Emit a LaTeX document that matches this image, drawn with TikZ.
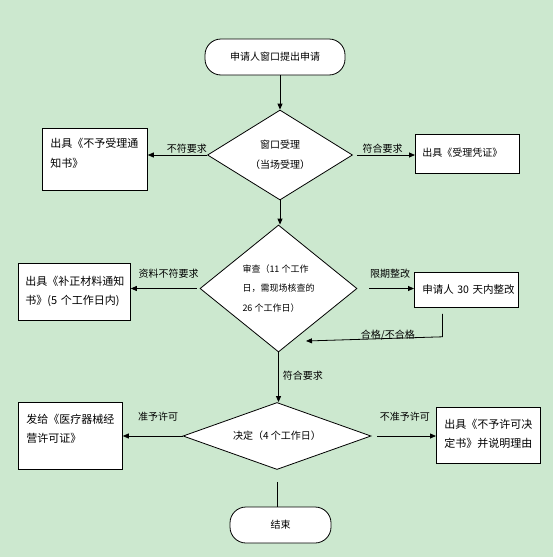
\documentclass[tikz,border=0pt]{standalone}
\usepackage{fontspec}
\setmainfont{Noto Sans CJK SC}
\usepackage{tikz}
\usetikzlibrary{shapes.geometric, arrows.meta, positioning}
\definecolor{pagegreen}{RGB}{204,232,207}
\newcommand{\setfs}[2]{\fontsize{#1pt}{#2pt}\selectfont}
\tikzset{
  basebox/.style={rectangle,draw=black,fill=white,line width=0.8pt,align=left,inner ysep=0pt,anchor=north west},
  termnode/.style={rectangle,rounded corners=16pt,draw=black,fill=white,line width=0.8pt,minimum height=36pt,font=\setfs{10}{12}},
  checknode/.style={diamond,draw=black,fill=white,line width=0.8pt,inner sep=0pt,align=center},
  lbl/.style={inner sep=1pt,font=\setfs{10}{12}},
  arr/.style={-{Triangle[length=6pt,width=5pt]},line width=0.8pt,color=black},
  plainline/.style={line width=0.8pt,color=black}
}
\begin{document}
\begin{tikzpicture}[x=1pt,y=-1pt]
  \fill[pagegreen] (0,0) rectangle (553,557);
  \useasboundingbox (0,0) rectangle (553,557);

  % main column
  \node[termnode,minimum width=140pt] (start) at (275,57) {申请人窗口提出申请};
  \node[checknode,minimum width=145pt,minimum height=90pt,aspect=1.6,font=\setfs{10}{20}] (d1) at (280,155)
      {窗口受理\\（当场受理）};
  \node[checknode,minimum width=157pt,minimum height=127pt,aspect=1.24,align=left,font=\setfs{9}{19.5}] (d2) at (278.5,288.5)
      {审查（11 个工作\\日，需现场核查的\\26 个工作日）};
  \node[checknode,minimum width=188pt,minimum height=67pt,aspect=2.8,font=\setfs{10}{12}] (d3) at (277,436)
      {决定（4 个工作日）};
  \node[termnode,minimum width=101pt] (fin) at (280.5,525) {结束};

  % side boxes
  \node[basebox,inner xsep=8pt,text width=89pt,text height=19pt,text depth=43pt,font=\setfs{11}{20}] (rej) at (42,128)
      {出具《不予受理通\\知书》};
  \node[basebox,inner xsep=7pt,text width=90pt,text height=22pt,text depth=17pt,font=\setfs{10}{12}] (acc) at (415,134)
      {出具《受理凭证》};
  \node[basebox,inner xsep=7pt,text width=98pt,text height=22pt,text depth=35pt,font=\setfs{11}{19}] (supp) at (18,263)
      {出具《补正材料通知\\书》(5 个工作日内)};
  \node[basebox,inner xsep=8pt,text width=88pt,text height=21pt,text depth=14pt,font=\setfs{10.5}{12}] (fix) at (414,272)
      {\mbox{申请人 30 天内整改}};
  \node[basebox,inner xsep=8pt,text width=88pt,text height=21pt,text depth=46pt,font=\setfs{11}{19}] (lic) at (18,402)
      {发给《医疗器械经\\营许可证》};
  \node[basebox,inner xsep=8pt,text width=88pt,text height=21pt,text depth=35pt,font=\setfs{11}{19}] (deny) at (436,407)
      {出具《不予许可决\\定书》并说明理由};

  % connectors
  \draw[arr] (d1.north |- start.south) -- (d1.north);
  \draw[arr] (d1.west) -- (d1.west -| rej.east) node[lbl,above,pos=0.34] {不符要求};
  \draw[arr,shorten <=4pt] (d1.east) -- (d1.east -| acc.west) node[lbl,above,pos=0.48] {符合要求};
  \draw[arr] (d1.south) -- (d1.south |- d2.north);
  \draw[arr,shorten <=3pt] (d2.west) -- (d2.west -| supp.east) node[lbl,above=9pt,pos=0.45] {资料不符要求};
  \draw[arr,shorten <=12pt] (d2.east) -- (d2.east -| fix.west) node[lbl,above=9pt,pos=0.58] {限期整改};
  \coordinate (fbend) at (306,341);
  \draw[arr] ([xshift=-24pt,yshift=-6pt]fix.south) -- ++(0,23) -- (fbend)
      node[lbl,pos=0.4,yshift=3pt] {合格/不合格};
  \draw[arr] (d2.south) -- (d2.south |- d3.north) node[lbl,right=3pt,pos=0.46] {符合要求};
  \draw[arr] (d3.west) -- (d3.west -| lic.east) node[lbl,above=13pt,pos=0.41] {准予许可};
  \draw[arr,shorten <=6pt] (d3.east) -- (d3.east -| deny.west) node[lbl,above=13pt,pos=0.52] {不准予许可};
  \draw[plainline,shorten <=12pt] (d3.south) -- (d3.south |- fin.north);
\end{tikzpicture}
\end{document}
